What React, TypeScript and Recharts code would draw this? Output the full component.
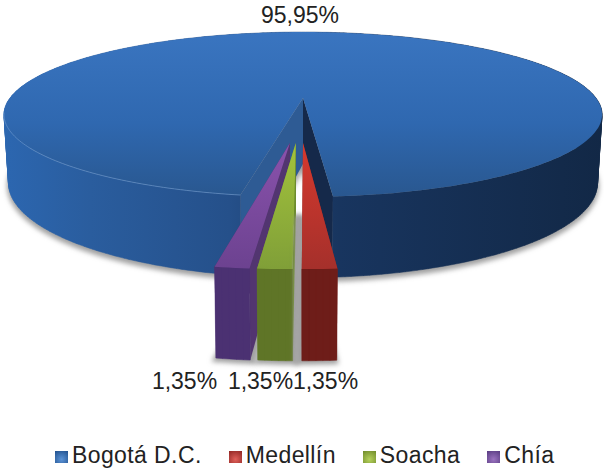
import React from 'react';
import { PieChart, Pie, Legend } from 'recharts';

// drawn order runs counter-clockwise, the legend reads the other way round
const categories = ['Bogotá D.C.', 'Chía', 'Soacha', 'Medellín'];
const shares = [95.95, 1.35, 1.35, 1.35];
const legendOrder = ['Bogotá D.C.', 'Medellín', 'Soacha', 'Chía'];

const data = categories.map((name, i) => ({ name, value: shares[i] }));

const PALETTE: Record<string, any> = {
  'Bogotá D.C.': { fill: '#2f66ac', top: 'url(#topBlue)', side: 'url(#sideBlue)', wallA: '#2e5b94', wallB: '#15294a', icon: ['#5b93d6', '#1f4f8c'] },
  'Medellín': { fill: '#be3a34', top: 'url(#topRed)', side: '#6e1d19', wallA: '#8a2622', wallB: '#8a2622', icon: ['#e0605a', '#8f2522'] },
  'Soacha': { fill: '#8fae3c', top: 'url(#topGreen)', side: '#5f7527', wallA: '#6c8a2c', wallB: '#6c8a2c', icon: ['#b5d15c', '#6f8a2a'] },
  'Chía': { fill: '#7a4d9e', top: 'url(#topPurple)', side: '#4b3172', wallA: '#523570', wallB: '#523570', icon: ['#9a72bf', '#573a80'] },
};

// how far each small slice was pulled out of the pie (unit disk)
const EXPLODE: Record<string, [number, number]> = {
  'Bogotá D.C.': [0, 0],
  'Medellín': [0, 0.51],
  'Soacha': [-0.022, 0.51],
  'Chía': [-0.04, 0.51],
};

const SHADOW_SHIFT: Record<string, string> = {
  'Bogotá D.C.': 'translate(0 3)',
  'Medellín': 'translate(-3 0)',
  'Soacha': 'translate(2 0)',
  'Chía': 'translate(2 0)',
};

const LABEL_AT: Record<string, [number, number]> = {
  'Bogotá D.C.': [300, 23],
  'Medellín': [325.5, 389],
  'Soacha': [260.5, 389],
  'Chía': [184.5, 389],
};

// fake 3d camera
const PERSP = 0.2;
const TILT = 0.27;
const DROP = 66;
const DROP_Y = 1.15;
const DROP_X = 0.985;

function project(cx: number, cy: number, R: number, u: number, v: number, low: boolean) {
  const w = 1 / (1 - PERSP * v);
  let x = R * u * w;
  let y = R * TILT * v * w;
  if (low) {
    x *= DROP_X;
    y = y * DROP_Y + DROP;
  }
  return [cx + x, cy + y];
}

const toPath = (pts: number[][]) =>
  'M' + pts.map((p) => `${p[0].toFixed(1)},${p[1].toFixed(1)}`).join('L') + 'Z';

// same winding for every strip, otherwise nonzero fill cuts holes where they overlap
function clockwise(pts: number[][]) {
  let area = 0;
  pts.forEach((p, i) => {
    const q = pts[(i + 1) % pts.length];
    area += p[0] * q[1] - q[0] * p[1];
  });
  return area < 0 ? [...pts].reverse() : pts;
}

function Slice3D(props: any) {
  const { cx, cy, outerRadius: R, startAngle, endAngle, name } = props;
  const key = name ?? props.payload?.name;
  const c = PALETTE[key];
  const [du, dv] = EXPLODE[key];
  const RAD = Math.PI / 180;

  const at = (deg: number, r: number, low: boolean) =>
    project(cx, cy, R, r * Math.cos(deg * RAD) + du, -r * Math.sin(deg * RAD) + dv, low);

  const n = Math.max(2, Math.ceil(Math.abs(endAngle - startAngle)));
  const arcTop: number[][] = [];
  const arcLow: number[][] = [];
  for (let i = 0; i <= n; i++) {
    const a = startAngle + ((endAngle - startAngle) * i) / n;
    arcTop.push(at(a, 1, false));
    arcLow.push(at(a, 1, true));
  }
  const apexTop = at(0, 0, false);
  const apexLow = at(0, 0, true);
  const isBig = key === 'Bogotá D.C.';

  const rim = isBig ? arcTop.filter((p) => p[0] < cx - 62 && p[1] > 112) : [];
  // outer wall, one strip per step so the silhouette stays closed
  const wall = arcTop
    .slice(1)
    .map((p, i) => toPath(clockwise([arcTop[i], p, arcLow[i + 1], arcLow[i]])))
    .join('');

  return (
    <g>
      <path
        d={toPath([apexLow, ...arcLow])}
        fill="#a0a0a0"
        stroke="#a0a0a0"
        strokeWidth={isBig ? 3 : 8}
        filter="url(#softShadow)"
        transform={SHADOW_SHIFT[key]}
      />
      {/* cut faces of the slice */}
      <path d={toPath([apexTop, arcTop[0], arcLow[0], apexLow])} fill={isBig ? c.wallB : c.wallA} />
      <path d={toPath([apexTop, arcTop[n], arcLow[n], apexLow])} fill={isBig ? c.wallA : c.wallB} />
      <path d={wall} fill={c.side} stroke={c.side} strokeWidth={0.5} />
      <path d={toPath([apexTop, ...arcTop])} fill={c.top} />
      {rim.length > 0 && (
        <polyline
          points={rim.map((p) => p.join(',')).join(' ')}
          fill="none"
          stroke="#6f9bd0"
          strokeOpacity={0.6}
          strokeWidth={1}
        />
      )}
    </g>
  );
}

const sliceLabel = (props: any) => {
  const [x, y] = LABEL_AT[props.name ?? props.payload?.name];
  return (
    <text x={x} y={y} textAnchor="middle" fontFamily="Liberation Sans" fontSize={23} fill="#222">
      {props.value.toFixed(2).replace('.', ',') + '%'}
    </text>
  );
};

const LegendRow = () => (
  <div style={{ display: 'flex', fontFamily: 'Liberation Sans', fontSize: 23, color: '#222', letterSpacing: 0.4, lineHeight: '26px' }}>
    {legendOrder.map((name) => {
      const [a, b] = PALETTE[name].icon;
      return (
        <div key={name} style={{ display: 'flex', alignItems: 'center', marginRight: 27 }}>
          <span style={{ width: 13, height: 12, marginRight: 4, marginTop: 4, background: `radial-gradient(circle at 50% 70%, ${a}, ${b})` }} />
          <span>{name}</span>
        </div>
      );
    })}
  </div>
);

export default function App() {
  return (
    <div style={{ position: 'absolute', left: 0, top: 0, width: 604, height: 469, background: '#fff' }}>
      <PieChart width={604} height={469} margin={{ top: 0, right: 0, bottom: 0, left: 0 }}>
        <defs>
          <linearGradient id="topBlue" x1="0" y1="0" x2="0" y2="1">
            <stop offset="0%" stopColor="#3a75c0" />
            <stop offset="55%" stopColor="#2f68b0" />
            <stop offset="100%" stopColor="#29578f" />
          </linearGradient>
          <linearGradient id="sideBlue" gradientUnits="userSpaceOnUse" x1="0" y1="0" x2="604" y2="0">
            <stop offset="0%" stopColor="#2c67b1" />
            <stop offset="15%" stopColor="#2a5d9e" />
            <stop offset="38%" stopColor="#25508a" />
            <stop offset="56%" stopColor="#18355f" />
            <stop offset="100%" stopColor="#122846" />
          </linearGradient>
          <linearGradient id="topRed" x1="0" y1="0" x2="0" y2="1">
            <stop offset="0%" stopColor="#d6392e" />
            <stop offset="100%" stopColor="#a5302b" />
          </linearGradient>
          <linearGradient id="topGreen" x1="0" y1="0" x2="0" y2="1">
            <stop offset="0%" stopColor="#a3c33c" />
            <stop offset="100%" stopColor="#809f38" />
          </linearGradient>
          <linearGradient id="topPurple" x1="0" y1="0" x2="0" y2="1">
            <stop offset="0%" stopColor="#8a52ac" />
            <stop offset="100%" stopColor="#6c4290" />
          </linearGradient>
          <filter id="softShadow" x="-30%" y="-10%" width="160%" height="120%">
            <feGaussianBlur stdDeviation="2.5" />
          </filter>
        </defs>
        <Pie
          data={data}
          dataKey="value"
          nameKey="name"
          cx={303}
          cy={98}
          innerRadius={0}
          outerRadius={293}
          startAngle={-85.3}
          endAngle={274.7}
          stroke="none"
          isAnimationActive={false}
          shape={Slice3D}
          label={sliceLabel}
          labelLine={false}
        />
        <Legend
          content={<LegendRow />}
          wrapperStyle={{ position: 'absolute', left: 55, top: 442, width: 549, bottom: 'auto' }}
        />
      </PieChart>
    </div>
  );
}
